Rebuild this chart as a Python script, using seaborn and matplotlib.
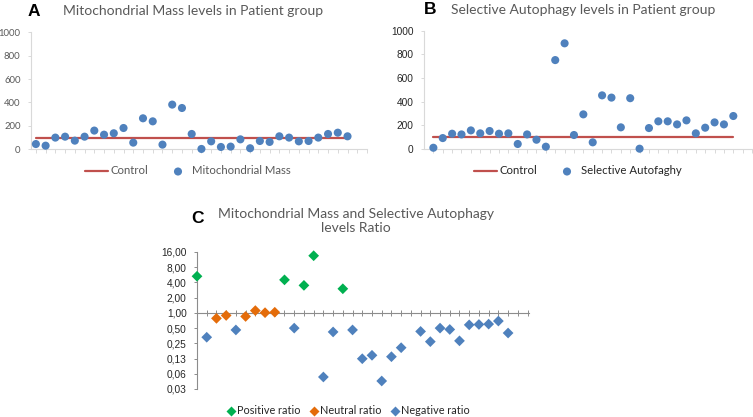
import numpy as np
import pandas as pd
import matplotlib
matplotlib.use("Agg")
import matplotlib.pyplot as plt
import seaborn as sns

# ---------------- data ----------------
mito_mass = [45, 31, 100, 108, 74, 108, 160, 125, 137, 182, 57, 265, 239, 40, 382,
             353, 131, 3, 68, 20, 23, 85, 9, 71, 63, 111, 100, 68, 71, 100, 131, 142, 111]
sel_autophagy = [8, 90, 127, 121, 155, 130, 150, 127, 130, 40, 121, 76, 17, 751, 893,
                 116, 291, 54, 452, 433, 181, 428, 0, 175, 232, 232, 206, 240, 130, 178,
                 223, 206, 277]
control_level = 100
ratio = [5.3, 0.33, 0.78, 0.89, 0.46, 0.85, 1.11, 1.01, 1.03, 4.5, 0.50, 3.5, 13.5,
         0.054, 0.42, 3.0, 0.46, 0.124, 0.145, 0.045, 0.136, 0.205, np.nan, 0.43, 0.27,
         0.50, 0.47, 0.28, 0.58, 0.59, 0.60, 0.69, 0.40]
ratio_group = ["Positive ratio", "Negative ratio", "Neutral ratio", "Neutral ratio",
               "Negative ratio", "Neutral ratio", "Neutral ratio", "Neutral ratio",
               "Neutral ratio", "Positive ratio", "Negative ratio", "Positive ratio",
               "Positive ratio", "Negative ratio", "Negative ratio", "Positive ratio",
               "Negative ratio", "Negative ratio", "Negative ratio", "Negative ratio",
               "Negative ratio", "Negative ratio", "Negative ratio", "Negative ratio",
               "Negative ratio", "Negative ratio", "Negative ratio", "Negative ratio",
               "Negative ratio", "Negative ratio", "Negative ratio", "Negative ratio",
               "Negative ratio"]
group_order = ["Positive ratio", "Neutral ratio", "Negative ratio"]
ratio_ticks = [0.03125, 0.0625, 0.125, 0.25, 0.5, 1, 2, 4, 8, 16]
ratio_ticklabels = ["0,03", "0,06", "0,13", "0,25", "0,50", "1,00", "2,00", "4,00", "8,00", "16,00"]
level_ticks = [0, 200, 400, 600, 800, 1000]

# ---------------- style ----------------
sns.set_theme(style="white")
plt.rcParams["font.family"] = ["Lato", "DejaVu Sans"]

BLUE = "#4F81BD"
RED = "#C0504D"
GREEN = "#00B050"
ORANGE = "#E46C0A"
GRAYTXT = "#595959"

W, H = 753, 417
fig = plt.figure(figsize=(W / 100, H / 100), dpi=100)
fig.patch.set_facecolor("white")


def rect(x0, x1, ytop, ybot):
    return [x0 / W, 1 - ybot / H, (x1 - x0) / W, (ybot - ytop) / H]


n = len(mito_mass)
idx = np.arange(n)
df_a = pd.DataFrame({"patient": idx, "value": mito_mass,
                     "control": [control_level] * n})
df_b = pd.DataFrame({"patient": idx, "value": sel_autophagy,
                     "control": [control_level] * n})


def level_panel(ax, df, label, xlim, tickcolor, tickfont, fs):
    sns.lineplot(data=df, x="patient", y="control", ax=ax, color=RED, lw=1.6,
                 label="Control")
    sns.scatterplot(data=df, x="patient", y="value", ax=ax, color=BLUE, s=34,
                    edgecolor="none", label=label, clip_on=False, zorder=3)
    ax.set_xlim(*xlim)
    ax.set_ylim(0, 1000)
    ax.set_yticks(level_ticks)
    ax.set_yticklabels([str(t) for t in level_ticks], color=tickcolor,
                       fontsize=fs, family=tickfont)
    ax.set_xticks(np.arange(0, 35))
    ax.set_xticklabels([])
    ax.set_xlabel("")
    ax.set_ylabel("")
    for s in ["top", "right"]:
        ax.spines[s].set_visible(False)
    for s in ["left", "bottom"]:
        ax.spines[s].set_color("#D9D9D9")
        ax.spines[s].set_linewidth(0.8)
    ax.tick_params(axis="x", bottom=True, direction="out", length=3, width=0.7,
                   color="#D9D9D9")
    ax.tick_params(axis="y", left=True, direction="out", length=2.5, width=0.7,
                   color="#D9D9D9", pad=5)
    ax.set_facecolor("none")
    if ax.get_legend() is not None:
        ax.get_legend().remove()


# ---------------- panel A ----------------
axA = fig.add_axes(rect(31, 367, 32.3, 149.3))
level_panel(axA, df_a, "Mitochondrial Mass", (-0.5, 34.0), GRAYTXT,
            ["Lato", "DejaVu Sans"], 6.8)
h, l = axA.get_legend_handles_labels()
fig.legend(h, l, loc="center", bbox_to_anchor=(188 / W, 1 - 171 / H), ncol=2,
           frameon=False, fontsize=8.2, handlelength=2.0, handletextpad=0.25,
           columnspacing=1.6, labelcolor=GRAYTXT)
fig.text(28 / W, 1 - 11 / H, "A", fontsize=12.5, fontweight="bold", color="black",
         family=["Liberation Sans", "DejaVu Sans"], ha="left", va="center")
fig.text(63 / W, 1 - 11 / H, "Mitochondrial Mass levels in Patient group",
         fontsize=10, color=GRAYTXT, ha="left", va="center")

# ---------------- panel B ----------------
axB = fig.add_axes(rect(424, 753, 30.7, 148.7))
level_panel(axB, df_b, "Selective Autofaghy", (-1.0, 34.1), "#262626",
            ["Liberation Sans", "DejaVu Sans"], 7.3)
h, l = axB.get_legend_handles_labels()
fig.legend(h, l, loc="center", bbox_to_anchor=(578 / W, 1 - 171 / H), ncol=2,
           frameon=False, fontsize=8.2, handlelength=2.0, handletextpad=0.25,
           columnspacing=1.6, labelcolor="#262626")
fig.text(424 / W, 1 - 10 / H, "B", fontsize=12.5, fontweight="bold", color="black",
         family=["Liberation Sans", "DejaVu Sans"], ha="left", va="center")
fig.text(451 / W, 1 - 10 / H, "Selective Autophagy levels in Patient group",
         fontsize=10, color=GRAYTXT, ha="left", va="center")

# ---------------- panel C ----------------
df_c = pd.DataFrame({"patient": idx, "ratio": ratio, "group": ratio_group}).dropna()
axC = fig.add_axes(rect(197, 529, 252, 389))
sns.scatterplot(data=df_c, x="patient", y="ratio", hue="group", hue_order=group_order,
                palette=[GREEN, ORANGE, BLUE], marker="D", s=30, edgecolor="none",
                ax=axC, clip_on=False, zorder=3)
axC.set_yscale("log", base=2)
axC.set_ylim(2 ** -5, 2 ** 4)
axC.set_xlim(0, 34.15)
axC.set_yticks(ratio_ticks)
axC.set_yticklabels(ratio_ticklabels, fontsize=7.3, color="#262626",
                    family=["Liberation Sans", "DejaVu Sans"])
axC.minorticks_off()
axC.set_xticks(np.arange(0, 35))
axC.set_xticklabels([])
axC.set_xlabel("")
axC.set_ylabel("")
axC.spines["bottom"].set_position(("data", 1))
for s in ["top", "right"]:
    axC.spines[s].set_visible(False)
for s in ["left", "bottom"]:
    axC.spines[s].set_color("#8C8C8C")
    axC.spines[s].set_linewidth(0.8)
axC.tick_params(axis="x", bottom=True, direction="inout", length=5, width=0.7,
                color="#8C8C8C")
axC.tick_params(axis="y", left=True, direction="out", length=2.5, width=0.7,
                color="#8C8C8C", pad=5)
axC.set_facecolor("none")
h, l = axC.get_legend_handles_labels()
axC.get_legend().remove()
fig.legend(h, l, loc="center", bbox_to_anchor=(349 / W, 1 - 411 / H), ncol=3,
           frameon=False, fontsize=7.8, handlelength=0.5, handletextpad=0.3,
           columnspacing=1.0, labelcolor="#262626")
fig.text(198 / W, 1 - 219 / H, "C", fontsize=12.5, fontweight="bold", color="black",
         family=["Liberation Sans", "DejaVu Sans"], ha="center", va="center")
fig.text(356 / W, 1 - 221 / H, "Mitochondrial Mass and Selective Autophagy\nlevels Ratio",
         fontsize=10, color=GRAYTXT, ha="center", va="center", linespacing=1.25)

fig.savefig("out.png", dpi=100, facecolor="white")
